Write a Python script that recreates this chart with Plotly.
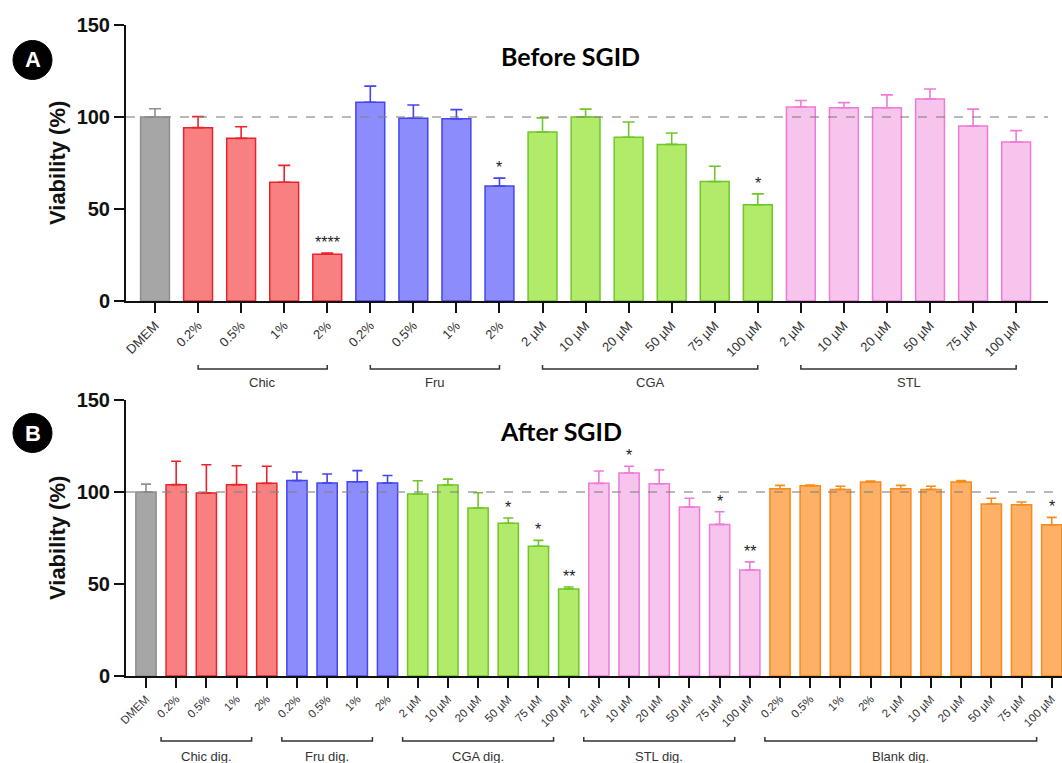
import plotly.graph_objects as go

# ---------------- data ----------------
# Panel A: before SGID
top_groups = ["DMEM", "Chic", "Fru", "CGA", "STL"]
top_labels = [
    ["DMEM"],
    ["0.2%", "0.5%", "1%", "2%"],
    ["0.2%", "0.5%", "1%", "2%"],
    ["2 µM", "10 µM", "20 µM", "50 µM", "75 µM", "100 µM"],
    ["2 µM", "10 µM", "20 µM", "50 µM", "75 µM", "100 µM"],
]
top_values = [
    [100.0],
    [94.2, 88.4, 64.5, 25.4],
    [108.0, 99.3, 99.0, 62.5],
    [91.8, 100.0, 89.0, 85.1, 64.9, 52.3],
    [105.4, 105.0, 105.0, 109.8, 95.1, 86.4],
]
top_errors = [
    [4.5],
    [6.0, 6.3, 9.2, 0.7],
    [8.8, 7.2, 5.0, 4.3],
    [7.7, 4.3, 8.3, 6.2, 8.3, 5.9],
    [3.6, 2.8, 7.0, 5.4, 9.2, 6.2],
]
top_sig = [
    [""],
    ["", "", "", "****"],
    ["", "", "", "*"],
    ["", "", "", "", "", "*"],
    ["", "", "", "", "", ""],
]
top_group_names = ["", "Chic", "Fru", "CGA", "STL"]

# Panel B: after SGID
bot_groups = ["DMEM", "Chic", "Fru", "CGA", "STL", "Blank"]
bot_labels = [
    ["DMEM"],
    ["0.2%", "0.5%", "1%", "2%"],
    ["0.2%", "0.5%", "1%", "2%"],
    ["2 µM", "10 µM", "20 µM", "50 µM", "75 µM", "100 µM"],
    ["2 µM", "10 µM", "20 µM", "50 µM", "75 µM", "100 µM"],
    ["0.2%", "0.5%", "1%", "2%", "2 µM", "10 µM", "20 µM", "50 µM", "75 µM", "100 µM"],
]
bot_values = [
    [100.0],
    [104.0, 99.5, 104.0, 104.7],
    [106.2, 104.9, 105.6, 104.9],
    [98.9, 103.8, 91.3, 83.0, 70.5, 47.3],
    [104.7, 110.3, 104.5, 91.8, 82.4, 57.6],
    [101.8, 103.4, 101.4, 105.4, 101.8, 101.4, 105.4, 93.5, 93.1, 82.2],
]
bot_errors = [
    [4.3],
    [12.7, 15.3, 10.3, 9.3],
    [4.7, 4.9, 6.0, 4.1],
    [7.2, 3.2, 8.3, 2.9, 3.2, 1.1],
    [6.7, 3.7, 7.5, 4.8, 6.9, 4.4],
    [1.8, 0.4, 1.7, 0.6, 1.8, 1.7, 0.8, 3.1, 1.5, 4.0],
]
bot_sig = [
    [""],
    ["", "", "", ""],
    ["", "", "", ""],
    ["", "", "", "*", "*", "**"],
    ["", "*", "", "", "*", "**"],
    ["", "", "", "", "", "", "", "", "", "*"],
]
bot_group_names = ["", "Chic dig.", "Fru dig.", "CGA dig.", "STL dig.", "Blank dig."]

# ---------------- styles ----------------
fills = {"DMEM": "#a6a6a6", "Chic": "#f88080", "Fru": "#8c8cfc",
         "CGA": "#b1eb69", "STL": "#f6c4ec", "Blank": "#fdb066"}
lines = {"DMEM": "#8e8e8e", "Chic": "#e8242a", "Fru": "#4444f0",
         "CGA": "#6fc62a", "STL": "#ef7ad8", "Blank": "#f98b1c"}

W, H = 1062, 763
def px(x):
    return x / W
def py(y):
    return 1 - y / H

FONT = "Liberation Sans, Arial, sans-serif"

fig = go.Figure()
annotations = []
shapes = []

panels = [
    dict(groups=top_groups, labels=top_labels, values=top_values, errors=top_errors,
         sig=top_sig, names=top_group_names, xa="x", ya="y",
         xdom=[px(126), px(1048)], ydom=[py(301), py(25)], xrange=[-0.674, 20.74],
         tickfont=13, bracket_y=369, label_y=382, bracket_shift=0.0, ew=6,
         title="Before SGID", title_xy=(570, 56), letter="A", circle=(32.5, 60),
         ytitle_y=163),
    dict(groups=bot_groups, labels=bot_labels, values=bot_values, errors=bot_errors,
         sig=bot_sig, names=bot_group_names, xa="x2", ya="y2",
         xdom=[px(126), 1.0], ydom=[py(676), py(400)], xrange=[-0.662, 30.34],
         tickfont=11.5, bracket_y=741, label_y=756, bracket_shift=-0.5, ew=5,
         title="After SGID", title_xy=(561, 431), letter="B", circle=(32.5, 433),
         ytitle_y=538),
]

for p in panels:
    idx = 0
    tickvals, ticktext = [], []
    for g, labs, vals, errs, sigs, name in zip(p["groups"], p["labels"], p["values"],
                                                p["errors"], p["sig"], p["names"]):
        xs = list(range(idx, idx + len(vals)))
        idx += len(vals)
        tickvals += xs
        ticktext += labs
        fig.add_trace(go.Bar(
            x=xs, y=vals, width=0.67, xaxis=p["xa"], yaxis=p["ya"],
            marker=dict(color=fills[g], line=dict(color=lines[g], width=1.5)),
            error_y=dict(type="data", symmetric=False, array=errs,
                         arrayminus=[0] * len(errs), color=lines[g],
                         thickness=1.6, width=p["ew"]),
            showlegend=False, hoverinfo="skip",
        ))
        for x, v, e, s in zip(xs, vals, errs, sigs):
            if s:
                annotations.append(dict(
                    x=x, y=v + e, xref=p["xa"], yref=p["ya"], text=s,
                    showarrow=False, yanchor="bottom", xanchor="center",
                    font=dict(family=FONT, size=16, color="#222")))
        if name:
            x0 = xs[0] + p["bracket_shift"]
            x1 = xs[-1] + p["bracket_shift"]
            yb = py(p["bracket_y"])
            yt = py(p["bracket_y"] - 4)
            shapes.append(dict(
                type="path", xref=p["xa"], yref="paper",
                path=f"M {x0},{yt} L {x0},{yb} L {x1},{yb} L {x1},{yt}",
                line=dict(color="#333", width=1.5)))
            annotations.append(dict(
                x=(x0 + x1) / 2, y=py(p["label_y"]), xref=p["xa"], yref="paper",
                text=name, showarrow=False, xanchor="center", yanchor="middle",
                font=dict(family=FONT, size=13, color="#333")))

    xkey = "xaxis" if p["xa"] == "x" else "xaxis2"
    ykey = "yaxis" if p["ya"] == "y" else "yaxis2"
    fig.update_layout(**{
        xkey: dict(domain=p["xdom"], range=p["xrange"], anchor=p["ya"], automargin=False,
                   tickmode="array", tickvals=tickvals, ticktext=ticktext,
                   tickangle=-45, ticks="outside", ticklen=10, tickwidth=1.8,
                   tickcolor="#111", showline=True, linecolor="#111", linewidth=2,
                   showgrid=False, zeroline=False,
                   tickfont=dict(family=FONT, size=p["tickfont"], color="#333")),
        ykey: dict(domain=p["ydom"], range=[0, 150], anchor=p["xa"], automargin=False,
                   tickvals=[0, 50, 100, 150], ticks="outside", ticklen=10,
                   tickwidth=2, tickcolor="#111", showline=True, linecolor="#111",
                   linewidth=2, showgrid=False, zeroline=False,
                   tickfont=dict(family=FONT, size=20, color="#111", weight="bold")),
    })

    shapes.append(dict(type="line", xref=f"{p['xa']} domain", yref=p["ya"],
                       x0=0, x1=1, y0=100, y1=100, layer="above",
                       line=dict(color="rgba(130,130,130,0.75)", width=1.3, dash="dash")))
    annotations.append(dict(
        x=px(p["title_xy"][0]), y=py(p["title_xy"][1]), xref="paper", yref="paper",
        text=f"<b>{p['title']}</b>", showarrow=False, xanchor="center", yanchor="middle",
        font=dict(family="Lato, Open Sans, sans-serif", size=25, color="#000")))
    annotations.append(dict(
        x=px(57), y=py(p["ytitle_y"]), xref="paper", yref="paper",
        text="<b>Viability (%)</b>", textangle=-90, showarrow=False,
        xanchor="center", yanchor="middle",
        font=dict(family=FONT, size=22, color="#111")))
    cx, cy = p["circle"]
    r = 19.5
    shapes.append(dict(type="circle", xref="paper", yref="paper",
                       x0=px(cx - r), x1=px(cx + r), y0=py(cy + r), y1=py(cy - r),
                       fillcolor="#000", line=dict(color="#000", width=1)))
    annotations.append(dict(
        x=px(cx), y=py(cy), xref="paper", yref="paper", text=f"<b>{p['letter']}</b>",
        showarrow=False, xanchor="center", yanchor="middle",
        font=dict(family=FONT, size=22, color="#fff")))

fig.update_layout(
    width=W, height=H, margin=dict(l=0, r=0, t=0, b=0, autoexpand=False),
    paper_bgcolor="#fff", plot_bgcolor="#fff",
    bargap=0.3, shapes=shapes, annotations=annotations,
)

fig.write_html("out.html", config={"displayModeBar": False},
               post_script="document.body.style.margin='0';")
